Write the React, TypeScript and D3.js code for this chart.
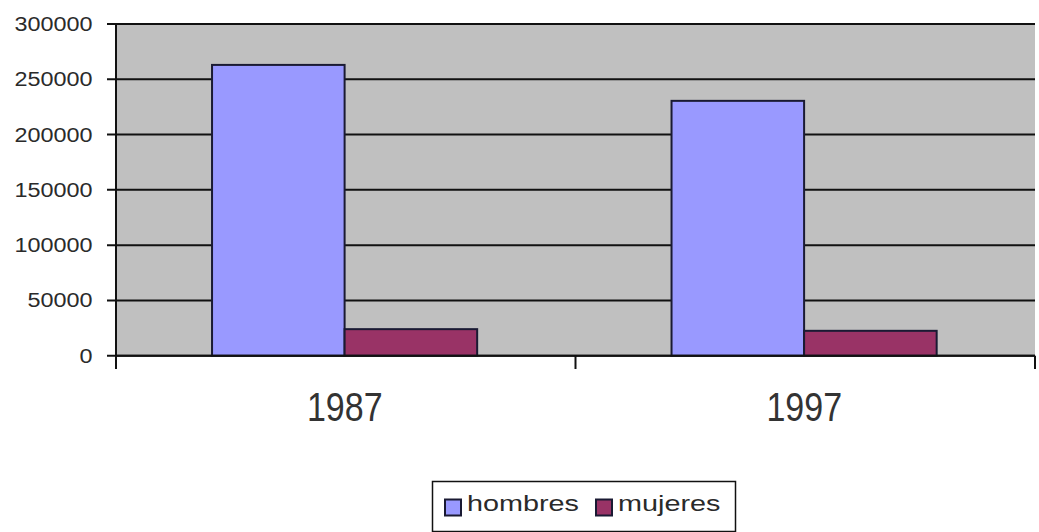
import React from "react";
import * as d3 from "d3";

const categories = ["1987", "1997"];
const seriesNames = ["hombres", "mujeres"];
const hombres = [263000, 230500];
const mujeres = [24000, 22500];
const yTicks = [0, 50000, 100000, 150000, 200000, 250000, 300000];

const colors: Record<string, string> = { hombres: "#9999ff", mujeres: "#993366" };

export default function App() {
  const W = 1039;
  const H = 532;
  const left = 116;
  const right = 1035;
  const top = 24;
  const bottom = 355.7;

  const x0 = d3.scaleBand<string>().domain(categories).range([left, right]).padding(0);
  const bw = x0.bandwidth();
  const x1 = d3
    .scaleBand<string>()
    .domain(seriesNames)
    .range([bw * 0.209, bw * 0.786])
    .padding(0);
  const y = d3.scaleLinear().domain([0, 300000]).range([bottom, top]);

  const values: Record<string, number[]> = { hombres, mujeres };
  const font = "'Liberation Sans', Arial, sans-serif";

  const xTickPositions = [left, ...categories.map((c) => (x0(c) as number) + bw)];

  return (
    <svg
      width={W}
      height={H}
      style={{ position: "absolute", left: 0, top: 0, background: "#fff" }}
    >
      <rect x={left} y={top} width={right - left} height={bottom - top} fill="#c0c0c0" />
      {yTicks.map((t) => (
        <g key={t}>
          <line x1={107} x2={right} y1={y(t)} y2={y(t)} stroke="#111" strokeWidth={2} />
          <text
            transform={`translate(92.5,${y(t) + 7}) scale(1.2,1)`}
            textAnchor="end"
            fontFamily={font}
            fontSize={19.5}
            fill="#2a2a2a"
          >
            {t}
          </text>
        </g>
      ))}
      {categories.map((c, i) =>
        seriesNames.map((s) => {
          const xv = (x0(c) as number) + (x1(s) as number);
          const v = values[s][i];
          return (
            <rect
              key={c + s}
              x={xv}
              y={y(v)}
              width={x1.bandwidth()}
              height={bottom - y(v)}
              fill={colors[s]}
              stroke="#1a1a33"
              strokeWidth={2}
            />
          );
        })
      )}
      <line x1={left} x2={left} y1={top} y2={368} stroke="#111" strokeWidth={2} />
      <line x1={left} x2={right} y1={bottom} y2={bottom} stroke="#111" strokeWidth={2} />
      {xTickPositions.map((xp, i) => (
        <line key={i} x1={xp} x2={xp} y1={bottom} y2={369} stroke="#111" strokeWidth={2} />
      ))}
      {categories.map((c) => (
        <text
          key={c}
          transform={`translate(${(x0(c) as number) + bw / 2 - 1},${421}) scale(1,1.17)`}
          textAnchor="middle"
          fontFamily={font}
          fontSize={34}
          fill="#333"
        >
          {c}
        </text>
      ))}
      <g>
        <rect x={432.5} y={481.5} width={303} height={50} fill="#fff" stroke="#111" strokeWidth={1.5} />
        {seriesNames.map((s, i) => {
          const sx = i === 0 ? 444 : 595;
          return (
            <g key={s}>
              <rect x={sx + 1} y={499.5} width={16} height={16} fill={colors[s]} stroke="#1a1a33" strokeWidth={2} />
              <text
                transform={`translate(${sx + 23},${511}) scale(1.28,1)`}
                fontFamily={font}
                fontSize={22.5}
                fill="#2a2a2a"
              >
                {s}
              </text>
            </g>
          );
        })}
      </g>
    </svg>
  );
}
